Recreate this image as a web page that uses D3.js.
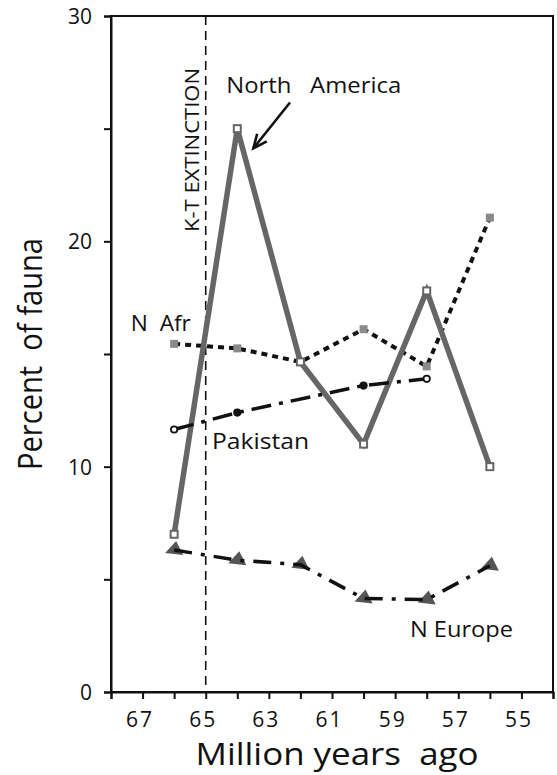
<!DOCTYPE html>
<html>
<head>
<meta charset="utf-8">
<script src="https://cdn.jsdelivr.net/npm/d3@7"></script>
<style>
  body { margin: 0; background: #fff; }
  svg { display: block; font-family: "Open Sans", "Noto Sans", sans-serif; }
</style>
</head>
<body>
<svg id="chart" width="557" height="775"></svg>
<script>
// Inputs
const years = [66, 64, 62, 60, 58, 56];
const northAmerica = [7, 25, 14.65, 11, 17.8, 10];
const nAfrica = [15.45, 15.25, 14.65, 16.1, 14.45, 21.05];
const pakistanYears = [66, 64, 60, 58];
const pakistan = [11.65, 12.4, 13.6, 13.9];
const nEurope = [6.3, 5.85, 5.65, 4.15, 4.1, 5.6];
const yTickLabels = [0, 10, 20, 30];
const xTickLabels = [67, 65, 63, 61, 59, 57, 55];
const extinctionYear = 65;

const svg = d3.select("#chart");

// Scales
const x = d3.scaleLinear().domain([68, 54]).range([111, 553]);
const y = d3.scaleLinear().domain([0, 30]).range([692, 16]);

// Frame
svg.append("rect")
  .attr("x", x(68)).attr("y", y(30))
  .attr("width", x(54) - x(68)).attr("height", y(0) - y(30))
  .attr("fill", "none").attr("stroke", "#111").attr("stroke-width", 2);

// Y axis
const yAxis = svg.append("g")
  .attr("transform", `translate(${x(68)},0)`)
  .call(d3.axisLeft(y).tickValues(d3.range(0, 31, 5)).tickSize(7)
    .tickFormat(d => yTickLabels.includes(d) ? d : ""));
yAxis.select(".domain").attr("stroke-width", 2).attr("stroke", "#111");
yAxis.selectAll(".tick line").attr("stroke-width", 2).attr("stroke", "#111");
yAxis.selectAll(".tick text")
  .attr("x", -19).attr("dy", "0.36em")
  .style("font-size", "21px").style("font-family", "Open Sans").attr("fill", "#111");

// X axis
const xAxis = svg.append("g")
  .attr("transform", `translate(0,${y(0)})`)
  .call(d3.axisBottom(x).tickValues(d3.range(54, 69, 1)).tickSize(7)
    .tickFormat(d => xTickLabels.includes(d) ? d : ""));
xAxis.select(".domain").attr("stroke-width", 2).attr("stroke", "#111");
xAxis.selectAll(".tick line").attr("stroke-width", 2).attr("stroke", "#111");
xAxis.selectAll(".tick text")
  .attr("y", 20).attr("dx", "-3px").attr("dy", "0.71em")
  .style("font-size", "21px").style("font-family", "Open Sans")
  .style("letter-spacing", "2px").attr("fill", "#111");

// Axis titles
svg.append("text")
  .attr("x", 337).attr("y", 765)
  .attr("text-anchor", "middle")
  .style("font-size", "31px").style("white-space", "pre").attr("fill", "#111")
  .attr("textLength", 283).attr("lengthAdjust", "spacingAndGlyphs")
  .text("Million years  ago");

svg.append("text")
  .attr("transform", "translate(42,354) rotate(-90)")
  .attr("text-anchor", "middle")
  .style("font-size", "33px").style("white-space", "pre").attr("fill", "#111")
  .attr("textLength", 232).attr("lengthAdjust", "spacingAndGlyphs")
  .text("Percent  of fauna");

// K-T extinction line
svg.append("line")
  .attr("x1", x(extinctionYear)).attr("x2", x(extinctionYear))
  .attr("y1", y(30)).attr("y2", y(0))
  .attr("stroke", "#111").attr("stroke-width", 1.6)
  .attr("stroke-dasharray", "9,6");

svg.append("text")
  .attr("transform", `translate(${x(extinctionYear) - 7},150) rotate(-90)`)
  .attr("text-anchor", "middle")
  .style("font-size", "20px").attr("fill", "#111")
  .attr("textLength", 164).attr("lengthAdjust", "spacingAndGlyphs")
  .text("K-T EXTINCTION");

const line = d3.line().x(d => x(d[0])).y(d => y(d[1]));

// N Europe
const eu = years.map((yr, i) => [yr, nEurope[i]]);
svg.selectAll(".eu-mark").data(eu).enter().append("path")
  .attr("class", "eu-mark")
  .attr("transform", d => `translate(${x(d[0]) + 2},${y(d[1])})`)
  .attr("d", "M-11,3 L0,-9 L7,5 Z")
  .attr("fill", "#555");
svg.append("path").datum(eu)
  .attr("d", line).attr("fill", "none")
  .attr("stroke", "#111").attr("stroke-width", 3.5)
  .attr("stroke-dasharray", "18,9,4,9");

// N Africa
const af = years.map((yr, i) => [yr, nAfrica[i]]);
svg.append("path").datum(af)
  .attr("d", line).attr("fill", "none")
  .attr("stroke", "#111").attr("stroke-width", 4)
  .attr("stroke-dasharray", "6,5");
svg.selectAll(".af-mark").data(af).enter().append("rect")
  .attr("class", "af-mark")
  .attr("x", d => x(d[0]) - 4).attr("y", d => y(d[1]) - 4)
  .attr("width", 8).attr("height", 8)
  .attr("fill", "#8a8a8a");

// North America
const na = years.map((yr, i) => [yr, northAmerica[i]]);
svg.append("path").datum(na)
  .attr("d", line).attr("fill", "none")
  .attr("stroke", "#666").attr("stroke-width", 5.5)
  .attr("stroke-linejoin", "miter");
svg.selectAll(".na-mark").data(na).enter().append("rect")
  .attr("class", "na-mark")
  .attr("x", d => x(d[0]) - 3.5).attr("y", d => y(d[1]) - 3.5)
  .attr("width", 7).attr("height", 7)
  .attr("fill", "#fff").attr("stroke", "#666").attr("stroke-width", 2);

// Pakistan
const pk = pakistanYears.map((yr, i) => [yr, pakistan[i]]);
svg.append("path").datum(pk)
  .attr("d", line).attr("fill", "none")
  .attr("stroke", "#111").attr("stroke-width", 3.5)
  .attr("stroke-dasharray", "20,8,4,8");
svg.selectAll(".pk-mark").data(pk).enter().append("circle")
  .attr("class", "pk-mark")
  .attr("cx", d => x(d[0])).attr("cy", d => y(d[1]))
  .attr("r", 3.2)
  .attr("fill", (d, i) => (i === 0 || i === pk.length - 1) ? "#fff" : "#111")
  .attr("stroke", "#111").attr("stroke-width", 1.8);

// Series labels
const labels = [
  { text: "North   America", t: 64.35, v: 26.6, len: 175 },
  { text: "N  Afr", t: 67.37, v: 16.0, len: 60 },
  { text: "Pakistan", t: 64.8, v: 10.8, len: 97 },
  { text: "N Europe", t: 58.53, v: 2.45, len: 103 }
];
svg.selectAll(".series-label").data(labels).enter().append("text")
  .attr("class", "series-label")
  .attr("x", d => x(d.t)).attr("y", d => y(d.v))
  .style("font-size", "21px").style("white-space", "pre").attr("fill", "#111")
  .attr("textLength", d => d.len).attr("lengthAdjust", "spacingAndGlyphs")
  .text(d => d.text);

// Arrow to North America peak
const arrowFrom = [62.33, 26.16];
const arrowTo = [63.49, 24.13];
const ax1 = x(arrowFrom[0]), ay1 = y(arrowFrom[1]);
const ax2 = x(arrowTo[0]), ay2 = y(arrowTo[1]);
const ang = Math.atan2(ay2 - ay1, ax2 - ax1);
const head = 15, spread = 0.42;
svg.append("path")
  .attr("d", `M${ax1},${ay1} L${ax2},${ay2}`)
  .attr("stroke", "#111").attr("stroke-width", 2.6).attr("fill", "none");
svg.append("path")
  .attr("d", `M${ax2 - head * Math.cos(ang - spread)},${ay2 - head * Math.sin(ang - spread)}
              L${ax2},${ay2}
              L${ax2 - head * Math.cos(ang + spread)},${ay2 - head * Math.sin(ang + spread)}`)
  .attr("stroke", "#111").attr("stroke-width", 2.6).attr("fill", "none");
</script>
</body>
</html>
